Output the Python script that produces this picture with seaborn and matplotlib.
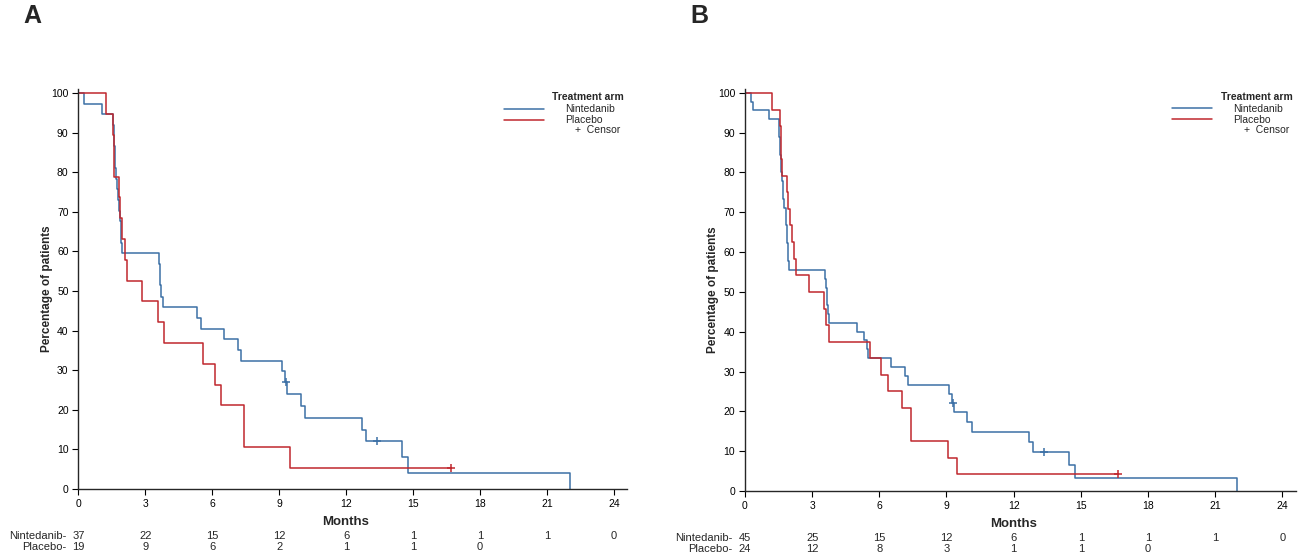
import numpy as np
import pandas as pd
import matplotlib
matplotlib.use("Agg")
import matplotlib.pyplot as plt
from matplotlib.lines import Line2D
from matplotlib import transforms
import seaborn as sns

# === DATA ===
# Panel A - step times (months) and survival (%)
a_nin_t = [0, 0.26, 1.05, 1.57, 1.59, 1.61, 1.63, 1.65, 1.68, 1.73, 1.80, 1.84, 1.87, 1.90,
           1.93, 1.97, 3.60, 3.64, 3.68, 3.72, 3.78, 5.30, 5.48, 6.54, 7.15, 7.27, 9.12,
           9.26, 9.35, 9.96, 10.18, 12.71, 12.89, 14.50, 14.79, 22.03]
a_nin_s = [100, 97.3, 94.6, 91.9, 89.2, 86.5, 83.8, 81.1, 78.4, 75.7, 73.0, 70.3, 67.6, 64.9,
           62.2, 59.5, 56.8, 54.1, 51.4, 48.6, 45.9, 43.2, 40.5, 37.8, 35.1, 32.4, 29.7,
           27.0, 24.0, 21.0, 18.0, 15.0, 12.0, 8.0, 4.0, 0]
a_nin_cens_t = [9.30, 13.38]
a_nin_cens_s = [27.0, 12.0]

a_pla_t = [0, 1.23, 1.57, 1.59, 1.61, 1.82, 1.88, 1.95, 2.07, 2.18, 2.85, 3.55, 3.82, 5.60,
           6.11, 6.39, 7.43, 9.50, 16.70]
a_pla_s = [100, 94.7, 89.5, 84.2, 78.9, 73.7, 68.4, 63.2, 57.9, 52.6, 47.4, 42.1, 36.8, 31.6,
           26.3, 21.1, 10.5, 5.3, 5.3]
a_pla_cens_t = [16.70]
a_pla_cens_s = [5.3]

# Panel B
b_nin_t = [0, 0.25, 0.38, 1.07, 1.50, 1.52, 1.55, 1.57, 1.60, 1.63, 1.65, 1.68, 1.72, 1.76,
           1.82, 1.84, 1.86, 1.88, 1.90, 1.92, 1.95, 3.57, 3.61, 3.65, 3.68, 3.72, 3.75,
           5.02, 5.31, 5.46, 5.50, 6.50, 7.14, 7.28, 9.11, 9.23, 9.34, 9.92, 10.15, 12.68,
           12.86, 14.48, 14.76, 21.98]
b_nin_s = [100, 97.8, 95.6, 93.3, 91.1, 88.9, 86.7, 84.4, 82.2, 80.0, 77.8, 75.6, 73.3, 71.1,
           68.9, 66.7, 64.4, 62.2, 60.0, 57.8, 55.6, 53.3, 51.1, 48.9, 46.7, 44.4, 42.2,
           40.0, 37.8, 35.6, 33.3, 31.1, 28.9, 26.7, 24.4, 22.2, 19.8, 17.3, 14.8, 12.3,
           9.9, 6.6, 3.3, 0]
b_nin_cens_t = [9.27, 13.35]
b_nin_cens_s = [22.2, 9.9]

b_pla_t = [0, 1.22, 1.58, 1.60, 1.62, 1.65, 1.88, 1.92, 2.00, 2.11, 2.19, 2.29, 2.87, 3.54,
           3.62, 3.75, 5.58, 6.09, 6.40, 7.02, 7.40, 9.06, 9.46, 16.67]
b_pla_s = [100, 95.8, 91.7, 87.5, 83.3, 79.2, 75.0, 70.8, 66.7, 62.5, 58.3, 54.2, 50.0, 45.8,
           41.7, 37.5, 33.3, 29.2, 25.0, 20.8, 12.5, 8.3, 4.2, 4.2]
b_pla_cens_t = [16.67]
b_pla_cens_s = [4.2]

# Numbers at risk
risk_times = [0, 3, 6, 9, 12, 15, 18, 21, 24]
a_nin_risk = [37, 22, 15, 12, 6, 1, 1, 1, 0]
a_pla_risk = [19, 9, 6, 2, 1, 1, 0]
b_nin_risk = [45, 25, 15, 12, 6, 1, 1, 1, 0]
b_pla_risk = [24, 12, 8, 3, 1, 1, 0]

NIN_COLOR = "#3c70a6"
PLA_COLOR = "#c0272d"
NARROW = ["Liberation Sans Narrow", "Liberation Sans", "DejaVu Sans"]

# === STYLE ===
sns.set_style("ticks")
plt.rcParams["font.family"] = ["Liberation Sans", "DejaVu Sans"]
plt.rcParams["axes.linewidth"] = 1.0


def draw_panel(ax, letter, nin, pla, nin_cens, pla_cens, nin_risk, pla_risk):
    for (t, s), color in [(nin, NIN_COLOR), (pla, PLA_COLOR)]:
        df = pd.DataFrame({"Months": t, "Pct": s})
        sns.lineplot(data=df, x="Months", y="Pct", ax=ax, color=color, lw=1.1,
                     estimator=None, sort=False, drawstyle="steps-post", legend=False)
    for (t, s), color in [(nin_cens, NIN_COLOR), (pla_cens, PLA_COLOR)]:
        sns.scatterplot(x=t, y=s, ax=ax, marker="+", s=30, color=color,
                        linewidth=1.1, legend=False, zorder=3)

    ax.set_xlim(0, 24.6)
    ax.set_ylim(0, 101)
    ax.set_xticks(np.arange(0, 25, 3))
    ax.set_yticks(np.arange(0, 101, 10))
    ax.tick_params(labelsize=7.5, length=4, width=0.8, colors="black", pad=3)
    ax.set_xlabel("")
    ax.set_ylabel("Percentage of patients", fontsize=8.5, fontweight="bold", labelpad=-1)
    sns.despine(ax=ax)

    # number-at-risk table under the x axis
    trans = transforms.blended_transform_factory(ax.transData, ax.transAxes)
    ax.text(12, -0.083, "Months", transform=trans, ha="center", va="center",
            fontsize=9.5, fontweight="bold")
    for i, n in enumerate(nin_risk):
        ax.text(risk_times[i], -0.118, str(n), transform=trans, ha="center",
                va="center", fontsize=8, family=NARROW)
    for i, n in enumerate(pla_risk):
        ax.text(risk_times[i], -0.145, str(n), transform=trans, ha="center",
                va="center", fontsize=8, family=NARROW)
    ax.text(-0.022, -0.118, "Nintedanib-", transform=ax.transAxes, ha="right",
            va="center", fontsize=8, family=NARROW)
    ax.text(-0.022, -0.145, "Placebo-", transform=ax.transAxes, ha="right",
            va="center", fontsize=8, family=NARROW)

    # legend block
    handles = [Line2D([], [], color=NIN_COLOR, lw=1.1),
               Line2D([], [], color=PLA_COLOR, lw=1.1)]
    ax.legend(handles, ["Nintedanib", "Placebo"], loc="upper left",
              bbox_to_anchor=(0.776, 0.962), frameon=False, fontsize=7.5,
              handlelength=3.8, handletextpad=2.0, labelspacing=0.1,
              borderpad=0, borderaxespad=0)
    ax.text(0.929, 0.98, "Treatment arm", transform=ax.transAxes, ha="center",
            va="center", fontsize=7.5, fontweight="bold")
    ax.text(0.988, 0.8975, "+  Censor", transform=ax.transAxes, ha="right",
            va="center", fontsize=7.5)

    ax.text(-0.10, 1.182, letter, transform=ax.transAxes, ha="left", va="center",
            fontsize=18, fontweight="bold")


fig = plt.figure(figsize=(12.99, 5.54), dpi=100)
ax_a = fig.add_axes([0.0603, 0.1173, 0.4225, 0.7220])
ax_b = fig.add_axes([0.5735, 0.1137, 0.4240, 0.7260])

draw_panel(ax_a, "A", (a_nin_t, a_nin_s), (a_pla_t, a_pla_s),
           (a_nin_cens_t, a_nin_cens_s), (a_pla_cens_t, a_pla_cens_s),
           a_nin_risk, a_pla_risk)
draw_panel(ax_b, "B", (b_nin_t, b_nin_s), (b_pla_t, b_pla_s),
           (b_nin_cens_t, b_nin_cens_s), (b_pla_cens_t, b_pla_cens_s),
           b_nin_risk, b_pla_risk)

fig.savefig("out.png", dpi=100, facecolor="white")
